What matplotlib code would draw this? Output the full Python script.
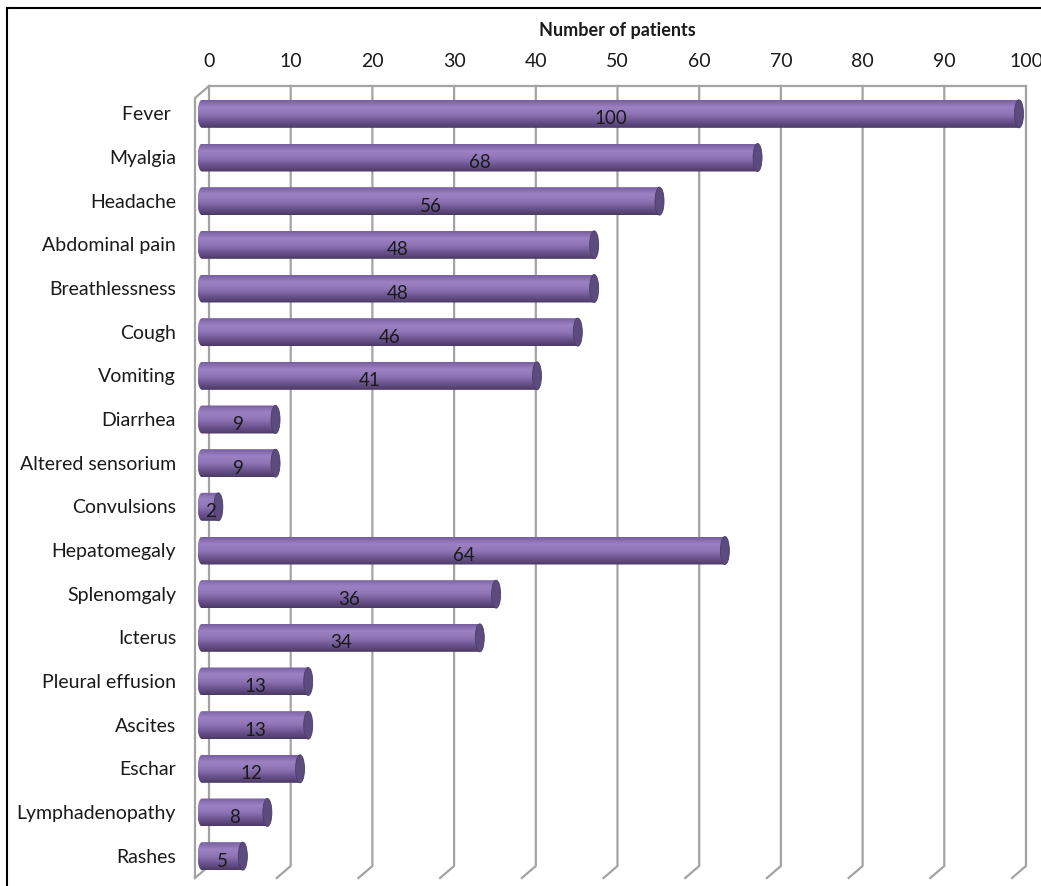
import numpy as np
import matplotlib
matplotlib.use("Agg")
import matplotlib.pyplot as plt
from matplotlib.path import Path
from matplotlib.patches import Ellipse, PathPatch
from matplotlib.colors import LinearSegmentedColormap

# DATA
symptoms = ["Fever ", "Myalgia", "Headache", "Abdominal pain", "Breathlessness",
            "Cough", "Vomiting", "Diarrhea", "Altered sensorium", "Convulsions",
            "Hepatomegaly", "Splenomgaly", "Icterus", "Pleural effusion",
            "Ascites", "Eschar", "Lymphadenopathy", "Rashes"]
patients = [100, 68, 56, 48, 48, 46, 41, 9, 9, 2, 64, 36, 34, 13, 13, 12, 8, 5]
ticks = [0, 10, 20, 30, 40, 50, 60, 70, 80, 90, 100]

plt.rcParams['font.family'] = ['Lato', 'DejaVu Sans']

W, H = 1041, 887
fig = plt.figure(figsize=(W / 100, H / 100), dpi=100)

# axes = plane through the middle of the bars (pixel positions)
zero_px, hundred_px = 202, 1019
ppu = (hundred_px - zero_px) / 100.0   # pixels per unit
xmin = -3
x0_px = zero_px + xmin * ppu
ytop_px, ybot_px = 93, 879
ax = fig.add_axes([x0_px / W, 1 - ybot_px / H, (hundred_px - x0_px) / W, (ybot_px - ytop_px) / H])
ax.axis('off')

pxx = 1 / ppu                               # data units per pixel in x
pxy = len(symptoms) / (ybot_px - ytop_px)   # data units per pixel in y
dx = 7 * pxx   # depth offset
dy = 6 * pxy

grid_col = '#a3a3a3'
y_back_top = -0.5 - 6 * pxy
y_back_bot = len(symptoms) - 0.5 - 12 * pxy

# back plane gridlines + floor slant
for t in ticks:
    ax.plot([t + dx, t + dx, t - dx], [y_back_top, y_back_bot, y_back_bot + 2 * dy],
            color=grid_col, lw=1.6, clip_on=False, zorder=1)
ax.plot([0 + dx, 100 + dx], [y_back_top, y_back_top], color=grid_col, lw=1.6, clip_on=False, zorder=1)
# left wall
ax.plot([0 + dx, 0 - dx, 0 - dx], [y_back_top, y_back_top + 2 * dy, y_back_bot + 2 * dy],
        color=grid_col, lw=1.6, clip_on=False, zorder=1)

# cylinder bars
cmap = LinearSegmentedColormap.from_list('cyl', ['#7860a0', '#9c82c3', '#8f75b5', '#6d5591', '#4c3a66'])
grad = np.linspace(0, 1, 64).reshape(-1, 1)
bh = 28 * pxy
ew = 4.5 * pxx
theta = np.linspace(0, np.pi, 40)
for i, v in enumerate(patients):
    top, bot = i - bh / 2, i + bh / 2
    verts = [(0, top), (v, top), (v, bot), (0, bot)]
    verts += list(zip(-ew * np.sin(theta), i + (bh / 2) * np.cos(theta)))
    clip = PathPatch(Path(verts), facecolor='none', edgecolor='none',
                     transform=ax.transData)
    ax.add_patch(clip)
    im = ax.imshow(grad, extent=(-ew, v, bot, top), cmap=cmap, aspect='auto',
                   interpolation='bilinear', zorder=2)
    im.set_clip_path(clip)
    ax.add_patch(Ellipse((v, i), 2 * ew, bh, facecolor='#5d4a7e', edgecolor='#4d3d69',
                         lw=0.6, zorder=3, clip_on=False))
    ax.text(v / 2, i + 4 * pxy, str(v), ha='center', va='center', fontsize=13.5,
            color='#1a1a1a', zorder=4)

ax.set_xlim(xmin, 100)
ax.set_ylim(len(symptoms) - 0.5, -0.5)

# category labels
for i, s in enumerate(symptoms):
    ax.text(-(zero_px - 176) * pxx, i, s, ha='right', va='center',
            fontsize=14, color='#1a1a1a', clip_on=False)

# top tick labels
for t in ticks:
    ax.text(t + dx, y_back_top - 26 * pxy, str(t), ha='center', va='center',
            fontsize=14, color='#1a1a1a', clip_on=False)
ax.text(50 + dx, y_back_top - 57 * pxy, 'Number of patients', ha='center', va='center',
        fontsize=13, fontweight='bold', color='#1a1a1a', clip_on=False)

# outer frame lines (top and left)
fig.add_artist(plt.Line2D([7 / W, 1], [1 - 9 / H, 1 - 9 / H], color='black', lw=1.5))
fig.add_artist(plt.Line2D([7 / W, 7 / W], [0, 1 - 9 / H], color='black', lw=1.5))

fig.savefig('out.png', dpi=100, facecolor='white')
